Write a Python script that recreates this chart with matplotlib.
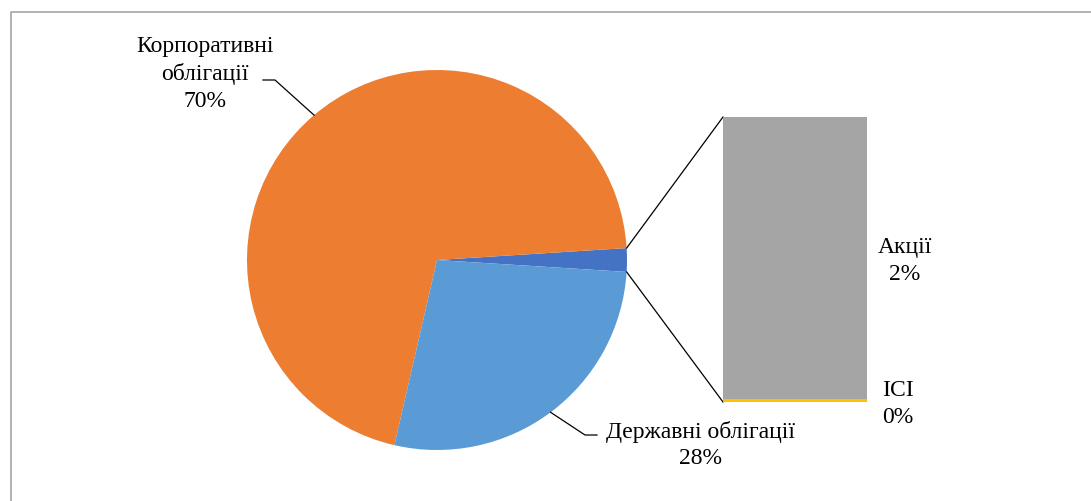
import numpy as np
import matplotlib
matplotlib.use("Agg")
import matplotlib.pyplot as plt
from matplotlib.lines import Line2D

# data (share of portfolio, %)
pie_names = ["Державні облігації", "Корпоративні облігації"]
pie_values = [27.6, 70.4]
bar_names = ["ICI", "Акції"]          # bottom -> top in the bar
bar_values = [0.02, 1.98]

pie_colors = ["#5B9BD5", "#ED7D31"]
other_color = "#4472C4"
bar_colors = ["#FFC000", "#A5A5A5"]

W, H = 1091, 502
plt.rcParams["font.family"] = ["Liberation Serif", "DejaVu Serif"]
plt.rcParams["font.size"] = 17

fig = plt.figure(figsize=(W / 100, H / 100), dpi=100)
ax = fig.add_axes([0, 0, 1, 1])

cx, cy, r = 437, H - 261, 190
other = sum(bar_values)
total = sum(pie_values) + other
other_deg = other / total * 360
start = -other_deg / 2

# pie: other slice first (centred at 3 o'clock), then corporate, then state
wedges, _ = ax.pie([other, pie_values[1], pie_values[0]],
                   colors=[other_color, pie_colors[1], pie_colors[0]],
                   startangle=start, counterclock=True,
                   radius=r, center=(cx, cy),
                   wedgeprops=dict(linewidth=0))
ax.set_xlim(0, W)
ax.set_ylim(0, H)
ax.set_aspect("equal")
ax.axis("off")

# bar of the "other" slice
bx0, bx1, by_top, by_bot = 723, 867, H - 118, H - 403
bax = fig.add_axes([bx0 / W, by_bot / H, (bx1 - bx0) / W, (by_top - by_bot) / H])
bottom = 0
for v, c in zip(bar_values, bar_colors):
    bax.bar([0], [v], bottom=bottom, width=1.0, color=c, linewidth=0)
    bottom += v
bax.set_xlim(-0.5, 0.5)
bax.set_ylim(0, other)
bax.axis("off")

# connector lines from the other slice to the bar
a1, a2 = np.deg2rad(start + other_deg), np.deg2rad(start)
ax.plot([cx + r * np.cos(a1), bx0], [cy + r * np.sin(a1), by_top], color="black", lw=0.9)
ax.plot([cx + r * np.cos(a2), bx0], [cy + r * np.sin(a2), by_bot], color="black", lw=0.9)

def pct(v):
    return f"{v / total * 100:.0f}%"

ls = 1.35

# labels
corp_mid = np.deg2rad(start + other_deg + pie_values[1] / total * 360 / 2)
ax.text(205, H - 74, "Корпоративні\nоблігації\n" + pct(pie_values[1]),
        ha="center", va="center", multialignment="center", linespacing=ls)
ax.plot([263, 275, cx + r * np.cos(corp_mid)], [H - 81, H - 81, cy + r * np.sin(corp_mid)],
        color="black", lw=0.9)

derzh_mid = np.deg2rad(start + other_deg + pie_values[1] / total * 360
                       + pie_values[0] / total * 360 / 2)
ax.text(700, H - 445, pie_names[0] + "\n" + pct(pie_values[0]),
        ha="center", va="center", multialignment="center", linespacing=ls)
ax.plot([cx + r * np.cos(derzh_mid), 585, 597], [cy + r * np.sin(derzh_mid), H - 436, H - 436],
        color="black", lw=0.9)

ax.text(905, H - 261, bar_names[1] + "\n" + pct(bar_values[1]),
        ha="center", va="center", multialignment="center", linespacing=ls)
ax.text(898, H - 404, bar_names[0] + "\n" + pct(bar_values[0]),
        ha="center", va="center", multialignment="center", linespacing=ls)

# chart frame (cut off at right and bottom)
fig.add_artist(Line2D([10.5 / W, 10.5 / W, 1], [0, 1 - 13 / H, 1 - 13 / H],
                      transform=fig.transFigure, color="#ABABAB", lw=1.3))

fig.savefig("out.png", dpi=100)
